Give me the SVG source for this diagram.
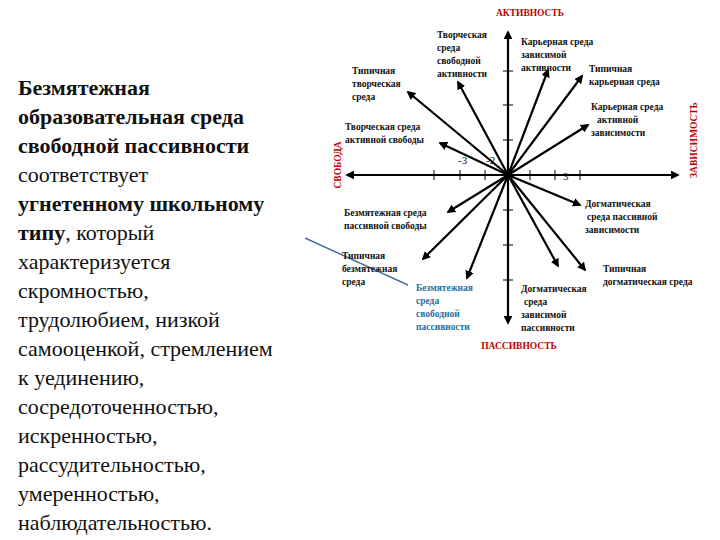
<svg xmlns="http://www.w3.org/2000/svg" width="720" height="540" viewBox="0 0 720 540" font-family="'Liberation Serif', 'DejaVu Serif', serif">
<style>
text{font-family:'Liberation Serif','DejaVu Serif',serif}
.t{font-size:22px;fill:#111}
.b{font-weight:bold}
.s{font-size:9.5px;font-weight:bold;fill:#111}
.r{font-size:9.5px;font-weight:bold;fill:#c00000}
.ar{stroke:#000;stroke-width:2.2;fill:none;marker-end:url(#m)}
</style>
<defs><marker id="m" viewBox="0 0 10 10" refX="8" refY="5" markerWidth="4" markerHeight="4" orient="auto"><path d="M0,0L10,5L0,10z" fill="#000"/></marker></defs>
<rect width="720" height="540" fill="#fff"/>
<g id="text-left" class="t" font-family="Liberation Serif, serif">
<text x="18" y="95" class="b">Безмятежная</text>
<text x="18" y="124" class="b">образовательная среда</text>
<text x="18" y="153" class="b">свободной пассивности</text>
<text x="18" y="182">соответствует</text>
<text x="18" y="211" class="b">угнетенному школьному</text>
<text x="18" y="240"><tspan class="b">типу</tspan>,  который</text>
<text x="18" y="269">характеризуется</text>
<text x="18" y="298">скромностью,</text>
<text x="18" y="327">трудолюбием, низкой</text>
<text x="18" y="356">самооценкой, стремлением</text>
<text x="18" y="385">к уединению,</text>
<text x="18" y="414">сосредоточенностью,</text>
<text x="18" y="443">искренностью,</text>
<text x="18" y="472">рассудительностью,</text>
<text x="18" y="501">умеренностью,</text>
<text x="18" y="530">наблюдательностью.</text>
</g>
<g id="connectors">
<line x1="305" y1="238" x2="408" y2="285" stroke="#4a6fa5" stroke-width="1.5"/>
<line class="ar" x1="508" y1="175" x2="508" y2="32"/>
<line class="ar" x1="508" y1="175" x2="508" y2="323"/>
<line class="ar" x1="508" y1="175" x2="347" y2="175"/>
<line class="ar" x1="508" y1="175" x2="678" y2="175"/>
<g stroke="#000" stroke-width="1">
<line x1="434" y1="170" x2="434" y2="180"/><line x1="460" y1="170" x2="460" y2="180"/><line x1="485" y1="170" x2="485" y2="180"/>
<line x1="530" y1="170" x2="530" y2="180"/><line x1="555" y1="170" x2="555" y2="180"/><line x1="580" y1="170" x2="580" y2="180"/>
<line x1="503" y1="71" x2="513" y2="71"/><line x1="503" y1="105" x2="513" y2="105"/><line x1="503" y1="140" x2="513" y2="140"/>
<line x1="503" y1="210" x2="513" y2="210"/><line x1="503" y1="245" x2="513" y2="245"/><line x1="503" y1="280" x2="513" y2="280"/>
</g>
<line class="ar" x1="508" y1="175" x2="408" y2="92"/>
<line class="ar" x1="508" y1="175" x2="458" y2="82"/>
<line class="ar" x1="508" y1="175" x2="548" y2="70"/>
<line class="ar" x1="508" y1="175" x2="582" y2="76"/>
<line class="ar" x1="508" y1="175" x2="588" y2="125"/>
<line class="ar" x1="508" y1="175" x2="440" y2="143"/>
<line class="ar" x1="508" y1="175" x2="580" y2="205"/>
<line class="ar" x1="508" y1="175" x2="448" y2="212"/>
<line class="ar" x1="508" y1="175" x2="423" y2="259"/>
<line class="ar" x1="508" y1="175" x2="467" y2="278"/>
<line class="ar" x1="508" y1="175" x2="558" y2="266"/>
<line class="ar" x1="508" y1="175" x2="585" y2="270"/>
</g>
<g id="axis-labels">
<text class="r" x="530" y="16" text-anchor="middle">АКТИВНОСТЬ</text>
<text class="r" x="519" y="349" text-anchor="middle">ПАССИВНОСТЬ</text>
<text class="r" transform="translate(341,165) rotate(-90)" text-anchor="middle">СВОБОДА</text>
<text class="r" transform="translate(697,140) rotate(-90)" text-anchor="middle">ЗАВИСИМОСТЬ</text>
<text x="458" y="164" font-size="11" fill="#111">-3</text>
<text x="486" y="164" font-size="11" fill="#111">-2</text>
<text x="563" y="180" font-size="11" fill="#111">3</text>
</g>
<g id="n1" class="s"><text x="352" y="74">Типичная</text><text x="352" y="87">творческая</text><text x="352" y="100">среда</text></g>
<g id="n2" class="s"><text x="437" y="38">Творческая</text><text x="437" y="51">среда</text><text x="437" y="64">свободной</text><text x="437" y="77">активности</text></g>
<g id="n3" class="s"><text x="521" y="45">Карьерная среда</text><text x="521" y="58">зависимой</text><text x="521" y="71">активности</text></g>
<g id="n4" class="s"><text x="589" y="72">Типичная</text><text x="589" y="85">карьерная среда</text></g>
<g id="n5" class="s"><text x="591" y="110">Карьерная среда</text><text x="597" y="123">активной</text><text x="591" y="136">зависимости</text></g>
<g id="n6" class="s"><text x="345" y="130">Творческая среда</text><text x="345" y="143">активной свободы</text></g>
<g id="n7" class="s"><text x="585" y="207">Догматическая</text><text x="587" y="220">среда  пассивной</text><text x="585" y="233">зависимости</text></g>
<g id="n8" class="s"><text x="344" y="216">Безмятежная среда</text><text x="344" y="229">пассивной свободы</text></g>
<g id="n9" class="s"><text x="342" y="259">Типичная</text><text x="342" y="272">безмятежная</text><text x="342" y="285">среда</text></g>
<g id="n10" class="s" style="fill:#1f6fa0"><text x="416" y="291">Безмятежная</text><text x="416" y="304">среда</text><text x="416" y="317">свободной</text><text x="416" y="330">пассивности</text></g>
<g id="n11" class="s"><text x="521" y="292">Догматическая</text><text x="524" y="305">среда</text><text x="521" y="318">зависимой</text><text x="521" y="331">пассивности</text></g>
<g id="n12" class="s"><text x="603" y="272">Типичная</text><text x="603" y="285">догматическая среда</text></g>
</svg>
